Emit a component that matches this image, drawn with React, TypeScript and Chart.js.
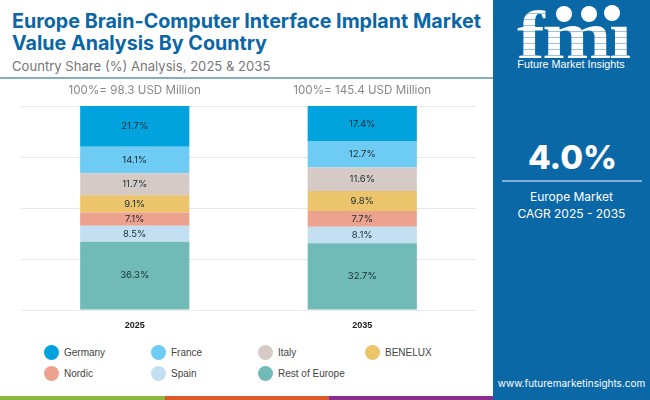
import { Chart, registerables } from 'chart.js';
import { useEffect, useRef } from 'react';

Chart.register(...registerables);

const years = ['2025', '2035'];
const totals = ['100%= 98.3 USD Million', '100%= 145.4 USD Million'];
const countries = ['Rest of Europe', 'Spain', 'Nordic', 'BENELUX', 'Italy', 'France', 'Germany'];
const colors = ['#70BAB8', '#C2E0F2', '#EDA28D', '#ECC46B', '#D6CAC6', '#6ECBF3', '#00A3DE'];
const share2025 = [36.3, 8.5, 7.1, 9.1, 11.7, 14.1, 21.7];
const share2035 = [32.7, 8.1, 7.7, 9.8, 11.6, 12.7, 17.4];
const legendOrder = ['Germany', 'France', 'Italy', 'BENELUX', 'Nordic', 'Spain', 'Rest of Europe'];

const PANEL = '#0B68A7';
const UI_FONT = 'Inter, sans-serif';

// the printed 2025 shares add up to more than 100, the bars are still full height
const sum25 = share2025.reduce((a, b) => a + b, 0);
const sum35 = share2035.reduce((a, b) => a + b, 0);

const barLabels = {
    id: 'barLabels',
    afterDatasetsDraw(chart: any) {
        const { ctx } = chart;
        ctx.save();
        ctx.textAlign = 'center';
        ctx.textBaseline = 'middle';
        ctx.font = '9.5px ' + UI_FONT;
        ctx.fillStyle = '#1c2b33';
        chart.data.datasets.forEach((ds: any, i: number) => {
            chart.getDatasetMeta(i).data.forEach((bar: any, j: number) => {
                const raw = j === 0 ? share2025[i] : share2035[i];
                ctx.fillText(raw.toFixed(1) + '%', bar.x, (bar.y + bar.base) / 2);
            });
        });
        // totals above the columns
        ctx.font = '11.6px ' + UI_FONT;
        ctx.fillStyle = '#888888';
        const meta = chart.getDatasetMeta(0);
        totals.forEach((t, j) => ctx.fillText(t, meta.data[j].x, 11));
        ctx.restore();
    },
};

function ChartBlock() {
    const canvasRef = useRef<HTMLCanvasElement>(null);

    useEffect(() => {
        if (!canvasRef.current) return;
        const chart = new Chart(canvasRef.current, {
            type: 'bar',
            data: {
                labels: years,
                datasets: countries.map((c, i) => ({
                    label: c,
                    data: [(share2025[i] / sum25) * 100, (share2035[i] / sum35) * 100],
                    backgroundColor: colors[i],
                    borderWidth: 0,
                    categoryPercentage: 1,
                    barPercentage: 0.48,
                })),
            },
            options: {
                animation: false,
                responsive: false,
                layout: { padding: { left: 21, right: 17, top: 26, bottom: 0 } },
                plugins: { legend: { display: false }, tooltip: { enabled: false } },
                scales: {
                    x: {
                        stacked: true,
                        grid: { display: false, drawTicks: false },
                        border: { display: false },
                        afterFit: (scale: any) => { scale.height = 30; },
                        ticks: {
                            color: '#222222',
                            padding: 10,
                            font: { family: '"Liberation Sans", sans-serif', size: 9, weight: 'bold' },
                        },
                    },
                    y: {
                        stacked: true,
                        min: 0,
                        max: 100,
                        afterFit: (scale: any) => { scale.width = 0; },
                        ticks: { display: false, stepSize: 25 },
                        border: { display: false },
                        grid: { color: '#E8E8E8', drawTicks: false },
                    },
                },
            },
            plugins: [barLabels],
        });
        return () => chart.destroy();
    }, []);

    return <canvas ref={canvasRef} width={493} height={260} style={{ position: 'absolute', left: 0, top: 80, width: 493, height: 260 }} />;
}

function Logo() {
    return (
        <div style={{ position: 'absolute', left: 493, top: 0, width: 157, height: 80 }}>
            <div style={{
                position: 'absolute', left: 24, top: 2, fontFamily: '"Liberation Serif", serif', fontWeight: 'bold', fontSize: 67, lineHeight: '67px',
                letterSpacing: -2, transform: 'scaleX(1.24)', transformOrigin: 'left top',
                background: 'repeating-linear-gradient(180deg, #fff 0 5px, #9cc3de 5px 6px)',
                WebkitBackgroundClip: 'text', backgroundClip: 'text', color: 'transparent',
            }}>fmı</div>
            {[[71, 14], [96, 14], [119, 13]].map(([x, y], i) => (
                <div key={i} style={{ position: 'absolute', left: x - 8, top: y - 8, width: 16, height: 16, borderRadius: 8, background: '#fff' }} />
            ))}
            <div style={{ position: 'absolute', left: 24, top: 58, width: 108, textAlign: 'center', whiteSpace: 'nowrap', color: '#fff', fontFamily: '"Liberation Sans", sans-serif', fontSize: 10.8 }}>
                Future Market Insights
            </div>
        </div>
    );
}

export default function App() {
    return (
        <div style={{ position: 'fixed', left: 0, top: 0, width: 650, height: 400, background: '#fff', overflow: 'hidden', fontFamily: UI_FONT }}>
            <div style={{ position: 'absolute', left: 12, top: 10, color: '#0B66A5', fontWeight: 700, fontSize: 19.7, lineHeight: '22px', whiteSpace: 'nowrap' }}>
                Europe Brain-Computer Interface Implant Market<br />Value Analysis By Country
            </div>
            <div style={{ position: 'absolute', left: 12, top: 57, color: '#777', fontSize: 13.1, lineHeight: '18px', whiteSpace: 'nowrap' }}>
                Country Share (%) Analysis, 2025 &amp; 2035
            </div>
            <div style={{ position: 'absolute', left: 0, top: 77, width: 493, height: 2, background: '#86ADC8' }} />

            <ChartBlock />

            {legendOrder.map((name, i) => {
                const col = i % 4;
                const row = Math.floor(i / 4);
                const color = colors[countries.indexOf(name)];
                return (
                    <div key={name} style={{ position: 'absolute', left: 44 + col * 107, top: 345 + row * 20.5, height: 15, display: 'flex', alignItems: 'center' }}>
                        <span style={{ width: 15, height: 15, borderRadius: '50%', background: color, marginRight: 5 }} />
                        <span style={{ fontFamily: '"Liberation Sans", sans-serif', fontSize: 10, color: '#444', whiteSpace: 'nowrap' }}>{name}</span>
                    </div>
                );
            })}

            <div style={{ position: 'absolute', left: 0, top: 396, width: 165, height: 4, background: '#8AB83F' }} />
            <div style={{ position: 'absolute', left: 165, top: 396, width: 164, height: 4, background: '#DC5A2A' }} />
            <div style={{ position: 'absolute', left: 329, top: 396, width: 164, height: 4, background: '#8A2E8E' }} />

            <div style={{ position: 'absolute', left: 493, top: 0, width: 157, height: 400, background: PANEL }} />
            <Logo />
            <div style={{ position: 'absolute', left: 494, top: 136, width: 157, textAlign: 'center', color: '#fff', fontWeight: 800, fontSize: 33, lineHeight: '42px' }}>4.0%</div>
            <div style={{ position: 'absolute', left: 502, top: 180, width: 140, height: 2, background: '#7FB2D6' }} />
            <div style={{ position: 'absolute', left: 493, top: 189, width: 157, textAlign: 'center', color: '#fff', fontSize: 12, lineHeight: '16.5px' }}>
                Europe Market<br />CAGR 2025 - 2035
            </div>
            <div style={{ position: 'absolute', left: 493, top: 376, width: 157, textAlign: 'center', color: '#fff', fontSize: 10, lineHeight: '14px', whiteSpace: 'nowrap' }}>
                www.futuremarketinsights.com
            </div>
        </div>
    );
}
